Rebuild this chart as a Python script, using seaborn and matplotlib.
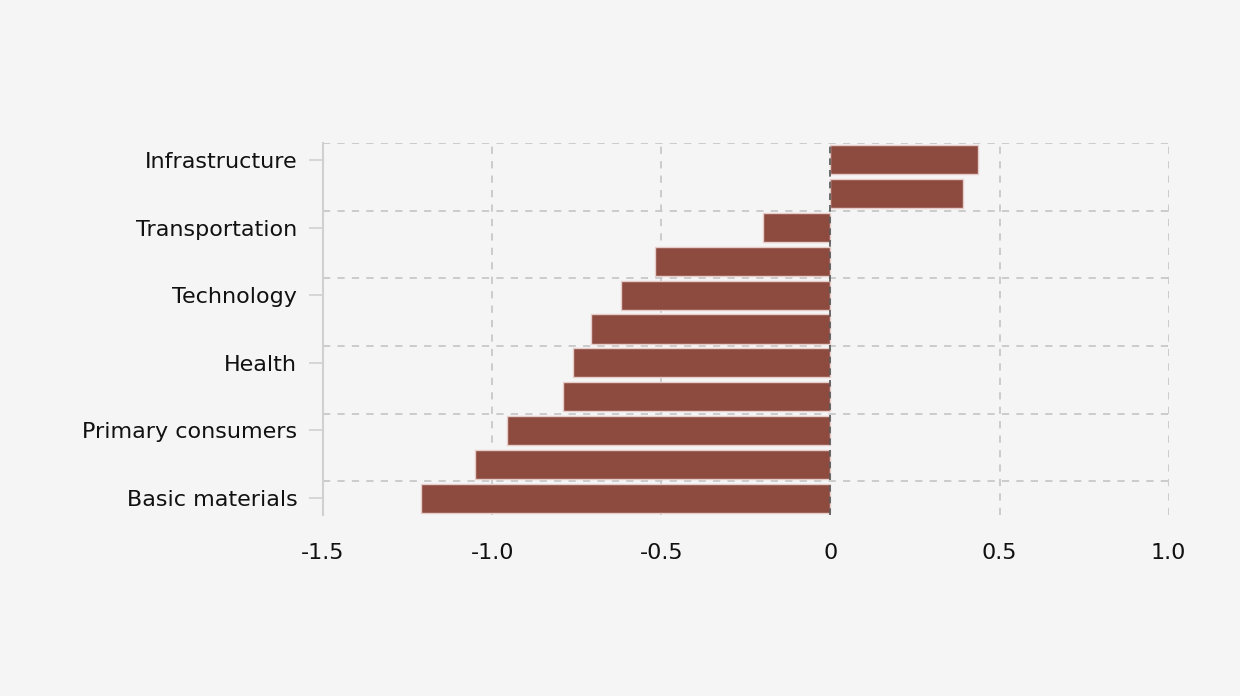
import pandas as pd
import numpy as np
import seaborn as sns
import matplotlib.pyplot as plt

# sectors from top to bottom; only every other one is labelled in the chart
sectors = ["Infrastructure", "Utilities", "Transportation", "Industrials",
           "Technology", "Financials", "Health", "Energy",
           "Primary consumers", "Consumer services", "Basic materials"]
values = [0.435, 0.392, -0.198, -0.518, -0.618, -0.708,
          -0.760, -0.790, -0.955, -1.050, -1.210]
shown_labels = ["Infrastructure", "Transportation", "Technology",
                "Health", "Primary consumers", "Basic materials"]
x_ticks = [-1.5, -1.0, -0.5, 0, 0.5, 1.0]
x_ticklabels = ["-1.5", "-1.0", "-0.5", "0", "0.5", "1.0"]

df = pd.DataFrame({"sector": sectors, "value": values})

sns.set_style("white")
plt.rcParams["font.family"] = ["DejaVu Sans"]
bg = "#f5f5f5"
grid_c = "#c8c8c8"

fig = plt.figure(figsize=(12.4, 6.96), dpi=100, facecolor=bg)
ax = fig.add_axes([0.2605, 0.26, 0.682, 0.5345])
ax.set_facecolor(bg)

sns.barplot(data=df, y="sector", x="value", order=sectors, color="#8d4b40",
            saturation=1, width=0.86, edgecolor="#e6cdc9", linewidth=1,
            ax=ax, zorder=2)

ax.set_xlim(-1.5, 1.0)
ax.set_ylim(len(sectors) - 0.5, -0.5)

# dashed grid
for xv in [-1.0, -0.5, 0.5, 1.0]:
    ax.axvline(xv, color=grid_c, linestyle=(0, (4, 4)), linewidth=1.3, zorder=1)
for i, s in enumerate(sectors):
    if s in shown_labels:
        ax.axhline(i - 0.5, color=grid_c, linestyle=(0, (4, 4)), linewidth=1.3, zorder=1)
ax.axvline(0, color="#555555", linestyle=(0, (4, 3)), linewidth=1.2, zorder=3)

pos = [sectors.index(s) for s in shown_labels]
ax.set_yticks(pos)
ax.set_yticklabels(shown_labels, fontsize=16, color="#111111")
ax.set_xticks(x_ticks)
ax.set_xticklabels(x_ticklabels, fontsize=16, color="#111111")
ax.tick_params(axis="y", length=10, width=1.2, color="#d0d0d0", pad=8.5, left=True)
ax.tick_params(axis="x", length=0, pad=20)

for side in ["top", "right", "bottom"]:
    ax.spines[side].set_visible(False)
ax.spines["left"].set_color("#d0d0d0")
ax.spines["left"].set_linewidth(1.5)

ax.set_xlabel("")
ax.set_ylabel("")

plt.savefig("out.png", dpi=100, facecolor=bg)
